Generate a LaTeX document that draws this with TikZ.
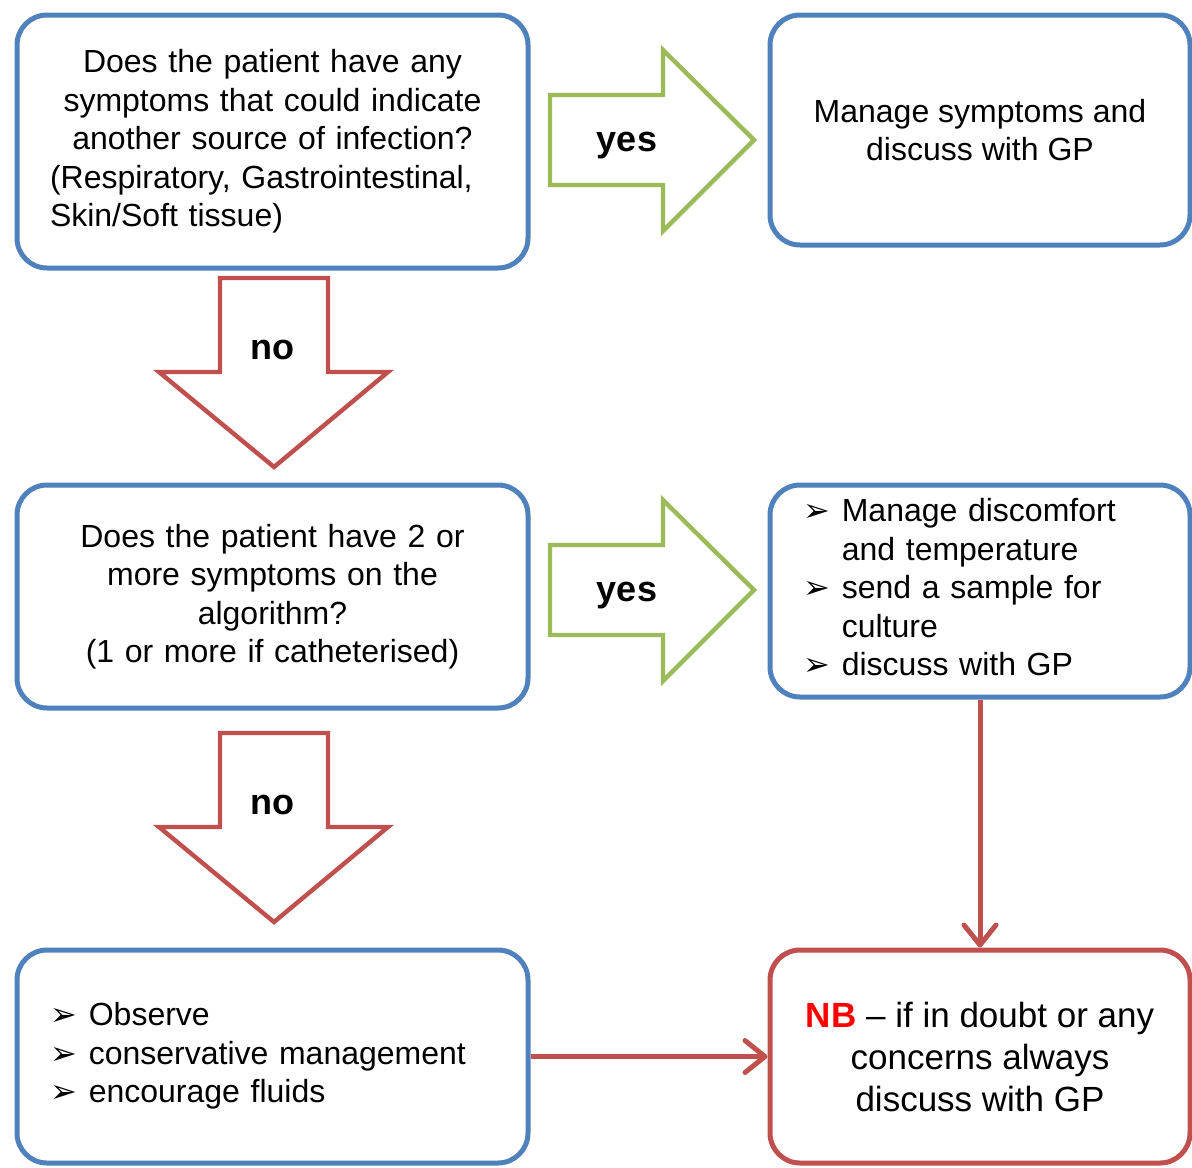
\documentclass[tikz,border=0pt]{standalone}
\usepackage{fontspec}
\setmainfont{Liberation Sans}
\newfontfamily\bulletfont{DejaVu Sans}
\usetikzlibrary{arrows.meta}

\definecolor{boxblue}{RGB}{79,129,189}
\definecolor{yesgreen}{RGB}{155,187,89}
\definecolor{nored}{RGB}{192,80,77}

\newcommand{\arrowbullet}{{\bulletfont\fontsize{16}{16}\selectfont ➢}}

\begin{document}
\begin{tikzpicture}[x=0.5pt,y=-0.5pt,
    box/.style={draw=boxblue, line width=2.5pt, rounded corners=15pt, fill=white,
        font=\fontsize{16}{19.25}\selectfont},
    question/.style={box, minimum width=255.5pt, inner xsep=16.5pt, text width=222.5pt, align=center},
    listbox/.style={box, minimum width=210pt, inner xsep=16.5pt, text width=177pt, align=left},
    yesarrow/.style={draw=yesgreen, line width=2.2pt, fill=white},
    noarrow/.style={draw=nored, line width=2.2pt, fill=white},
    answer/.style={font=\fontsize{18}{18}\selectfont\bfseries},
    conn/.style={draw=nored, line width=2.5pt, -{Straight Barb[length=10pt,width=16pt,round]}}]
    \useasboundingbox (0,0) rectangle (1192,1167);

    % questions and outcomes
    \node[question, minimum height=126.5pt] (q1) at (272.5,141.5)
        {Does the patient have any\\ symptoms that could indicate\\ another source of infection?\\
         \makebox[\linewidth][l]{(Respiratory, Gastrointestinal,}\\
         \makebox[\linewidth][l]{Skin/Soft tissue)}};
    \node[box, minimum width=210pt, minimum height=115pt, align=center] (manage) at (980,130)
        {Manage symptoms and\\ discuss with GP};
    \node[question, minimum height=111.5pt] (q2) at (272.5,596.5)
        {Does the patient have 2 or\\ more symptoms on the\\ algorithm?\\ (1 or more if catheterised)};
    \node[listbox, minimum height=106pt] (care) at (980,591)
        {\noindent\begin{tabular}{@{}l@{\hspace{6pt}}l@{}}
            \arrowbullet & Manage discomfort\\ & and temperature\\
            \arrowbullet & send a sample for\\ & culture\\
            \arrowbullet & discuss with GP
        \end{tabular}};
    \node[listbox, text width=222.5pt, minimum width=255.5pt, minimum height=106.5pt] (observe) at (272.5,1056.5)
        {\noindent\begin{tabular}{@{}l@{\hspace{6pt}}l@{}}
            \arrowbullet & Observe\\
            \arrowbullet & conservative management\\
            \arrowbullet & encourage fluids
        \end{tabular}};
    \node[box, draw=nored, minimum width=210pt, minimum height=106.5pt, align=center,
        font=\fontsize{17.5}{21}\selectfont] (nb) at (980,1056.5)
        {\textcolor{red}{\textbf{NB}} -- if in doubt or any\\ concerns always\\ discuss with GP};

    % block arrows
    \foreach \dy in {0,450}
        \draw[yesarrow] (550,95+\dy) -- (663,95+\dy) -- (663,50+\dy) -- (754,140+\dy)
            -- (663,231+\dy) -- (663,185+\dy) -- (550,185+\dy) -- cycle;
    \foreach \dy in {0,455}
        \draw[noarrow] (220,278+\dy) -- (328,278+\dy) -- (328,372+\dy) -- (388,372+\dy)
            -- (274,467+\dy) -- (159,372+\dy) -- (220,372+\dy) -- cycle;
    \node[answer] (yes1) at (627,146) {yes};
    \node[answer] (yes2) at (627,596) {yes};
    \node[answer] (no1) at (272,350) {no};
    \node[answer] (no2) at (272,805) {no};

    \draw[conn] (care.south) -- (nb.north);
    \draw[conn] (observe.east) -- (nb.west);
\end{tikzpicture}
\end{document}
